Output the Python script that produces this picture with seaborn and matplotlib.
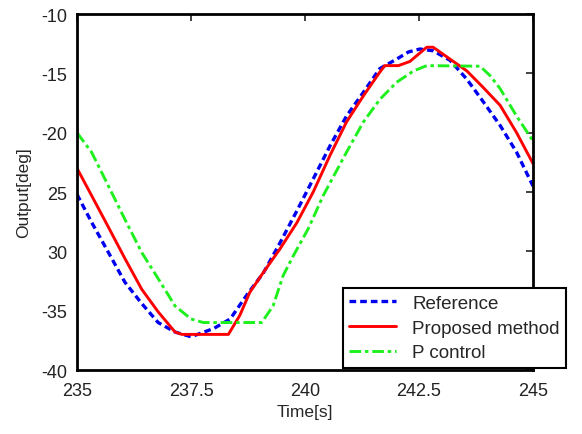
import matplotlib
matplotlib.use("Agg")
import matplotlib.pyplot as plt
import seaborn as sns
import pandas as pd
from matplotlib.ticker import FixedLocator, FixedFormatter

# ---- data ----
t_ref = [235.0, 235.32, 235.69, 236.05, 236.42, 236.78, 237.15, 237.5, 238.0, 238.36,
         238.72, 239.09, 239.45, 239.82, 240.18, 240.55, 240.91, 241.28, 241.64, 242.01,
         242.27, 242.52, 242.81, 243.18, 243.55, 243.91, 244.28, 244.64, 245.0]
y_ref = [-25.2, -27.55, -30.1, -32.6, -34.4, -36.0, -36.8, -37.2, -36.5, -35.7,
         -33.7, -31.8, -29.3, -26.6, -23.9, -21.1, -18.6, -16.6, -14.6, -13.8,
         -13.2, -12.95, -13.1, -13.9, -15.5, -17.4, -19.4, -21.65, -24.5]

t_prop = [235.0, 235.32, 235.69, 236.05, 236.42, 236.78, 237.15, 237.3, 238.32, 238.57,
          238.79, 239.09, 239.45, 239.82, 240.18, 240.55, 240.91, 241.28, 241.64, 241.75,
          242.05, 242.3, 242.67, 242.81, 243.18, 243.55, 243.91, 244.28, 244.64, 245.0]
y_prop = [-23.0, -25.3, -27.97, -30.6, -33.2, -35.1, -36.8, -37.0, -37.0, -35.4,
          -33.45, -31.76, -29.8, -27.6, -25.0, -21.9, -19.1, -16.9, -14.9, -14.35,
          -14.35, -14.0, -12.8, -12.8, -13.8, -14.8, -16.2, -17.7, -20.0, -22.6]

t_p = [235.0, 235.32, 235.69, 236.05, 236.42, 236.78, 237.15, 237.5, 237.77, 239.05,
       239.3, 239.52, 239.74, 240.07, 240.4, 240.91, 241.28, 241.64, 242.01, 242.38,
       242.67, 243.84, 244.06, 244.28, 244.64, 245.0]
y_p = [-20.0, -21.65, -24.5, -27.3, -30.1, -32.3, -34.6, -35.7, -36.0, -36.0,
       -34.6, -32.05, -30.4, -28.1, -25.3, -21.65, -19.1, -17.2, -15.75, -14.8,
       -14.35, -14.4, -15.2, -16.3, -18.6, -20.7]

series_names = ["Reference", "Proposed method", "P control"]
x_ticks = [235, 237.5, 240, 242.5, 245]
x_tick_labels = ["235", "237.5", "240", "242.5", "245"]
y_ticks = [-40, -35, -30, -25, -20, -15, -10]
y_tick_labels = ["-40", "-35", "30", "25", "-20", "-15", "-10"]

sns.set_style("white")
plt.rcParams['font.family'] = ['Liberation Sans', 'DejaVu Sans']

fig = plt.figure(figsize=(5.82, 4.35), dpi=100)
ax = fig.add_axes([77/582, 1 - 371/435, (533-77)/582, (371-15)/435])

df_ref = pd.DataFrame({"t": t_ref, "y": y_ref})
df_prop = pd.DataFrame({"t": t_prop, "y": y_prop})
df_p = pd.DataFrame({"t": t_p, "y": y_p})

sns.lineplot(data=df_ref, x="t", y="y", ax=ax, color="#0000f0", lw=2.4,
             linestyle=(0, (2.0, 1.2)), label=series_names[0], estimator=None, sort=False)
sns.lineplot(data=df_prop, x="t", y="y", ax=ax, color="#ff0000", lw=2.1,
             linestyle="-", label=series_names[1], estimator=None, sort=False)
sns.lineplot(data=df_p, x="t", y="y", ax=ax, color="#1ef01e", lw=2.1,
             linestyle=(0, (4, 1.3, 1.2, 1.3)), label=series_names[2], estimator=None, sort=False)

ax.set_xlim(235, 245)
ax.set_ylim(-40, -10)
ax.xaxis.set_major_locator(FixedLocator(x_ticks))
ax.xaxis.set_major_formatter(FixedFormatter(x_tick_labels))
ax.yaxis.set_major_locator(FixedLocator(y_ticks))
ax.yaxis.set_major_formatter(FixedFormatter(y_tick_labels))

for s in ax.spines.values():
    s.set_visible(True)
    s.set_color("black")
    s.set_linewidth(2.0)

ax.tick_params(direction="in", length=5, width=1.2, top=True, right=True,
               labelsize=13, colors="#222222")
ax.tick_params(axis="x", pad=9)
ax.tick_params(axis="y", pad=7)

ax.set_xlabel("Time[s]", fontsize=12.5, labelpad=3)
ax.set_ylabel("Output[deg]", fontsize=12.5, labelpad=7)

leg = ax.legend(loc="lower left", bbox_to_anchor=(0.583, 0.006), fontsize=13.5,
                frameon=True, fancybox=False, borderpad=0.35, labelspacing=0.4,
                handlelength=2.5, handletextpad=0.85, borderaxespad=0)
leg.get_frame().set_edgecolor("black")
leg.get_frame().set_linewidth(1.5)
leg.get_frame().set_alpha(1)

fig.savefig("out.png", dpi=100)
